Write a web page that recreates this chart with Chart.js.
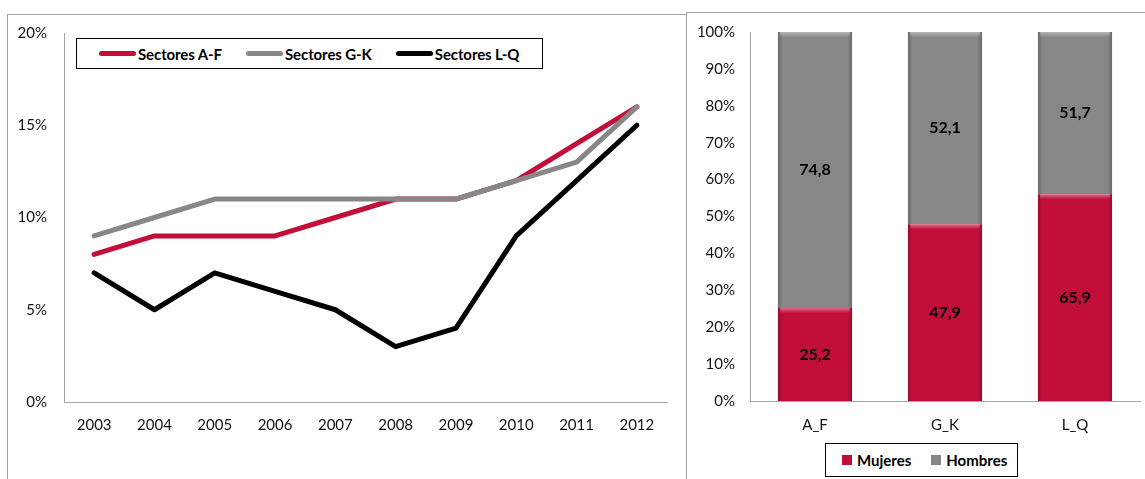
<!DOCTYPE html>
<html>
<head>
<meta charset="utf-8">
<script src="https://cdn.jsdelivr.net/npm/chart.js@4"></script>
<style>
  body { margin: 0; background: #fff; width: 1145px; height: 479px; overflow: hidden; position: relative; font-family: Lato, sans-serif; }
  #left { position: absolute; left: 7px; top: 14px; width: 678px; height: 470px; border: 1px solid #a6a6a6; border-bottom: none; }
  #right { position: absolute; left: 686px; top: 12px; width: 470px; height: 470px; border-top: 1px solid #a6a6a6; border-left: 1px solid #a6a6a6; }
  #left canvas, #right canvas { position: absolute; left: 0; top: 0; }
  .legend { position: absolute; box-sizing: border-box; border: 1px solid #000; background: #fff; display: flex; align-items: center; font-weight: bold; font-size: 15px; color: #000; white-space: nowrap; }
  #lineLegend { left: 76px; top: 38px; width: 467px; height: 31px; padding-left: 22px; }
  #lineLegend .item { display: flex; align-items: center; margin-right: 24px; letter-spacing: -0.1px; }
  #lineLegend .swatch { width: 37px; height: 5px; border-radius: 3px; margin-right: 2px; }
  #barLegend { left: 825px; top: 443px; width: 193px; height: 34px; padding-left: 16px; }
  #barLegend .item { display: flex; align-items: center; margin-right: 20px; }
  #barLegend .swatch { width: 10px; height: 10px; margin-right: 5px; }
</style>
</head>
<body>
<div id="left"><canvas id="lineChart" width="678" height="465"></canvas></div>
<div id="right"><canvas id="barChart" width="458" height="466"></canvas></div>
<div id="lineLegend" class="legend"></div>
<div id="barLegend" class="legend"></div>
<script>
// Left chart: share by sector group, 2003-2012 (%)
const years = ["2003", "2004", "2005", "2006", "2007", "2008", "2009", "2010", "2011", "2012"];
const sectoresAF = [8, 9, 9, 9, 10, 11, 11, 12, 14, 16];
const sectoresGK = [9, 10, 11, 11, 11, 11, 11, 12, 13, 16];
const sectoresLQ = [7, 5, 7, 6, 5, 3, 4, 9, 12, 15];
const lineTicks = [0, 5, 10, 15, 20];

// Right chart: women / men by sector group
const groups = ["A_F", "G_K", "L_Q"];
const mujeres = [25.2, 47.9, 65.9];
const hombres = [74.8, 52.1, 51.7];
const barTicks = [0, 10, 20, 30, 40, 50, 60, 70, 80, 90, 100];

const RED = "#c20f3a";
const GRAY = "#878787";
const tickFont = { family: "Lato", size: 15 };
const tickColor = "#111";
const axisColor = "#a6a6a6";

// Line chart
const lineChart = new Chart(document.getElementById("lineChart"), {
  type: "line",
  data: {
    labels: years,
    datasets: [
      { label: "Sectores A-F", data: sectoresAF, borderColor: RED, order: 3 },
      { label: "Sectores G-K", data: sectoresGK, borderColor: GRAY, order: 2 },
      { label: "Sectores L-Q", data: sectoresLQ, borderColor: "#000000", order: 1 }
    ]
  },
  options: {
    responsive: false,
    animation: false,
    layout: { padding: { left: 0, right: 19, top: 18, bottom: 0 } },
    elements: {
      line: { borderWidth: 5, tension: 0, borderJoinStyle: "round", borderCapStyle: "round" },
      point: { radius: 0, hoverRadius: 0 }
    },
    plugins: { legend: { display: false }, tooltip: { enabled: false } },
    scales: {
      x: {
        offset: true,
        grid: { display: false, drawTicks: false },
        border: { display: true, color: axisColor, width: 1 },
        ticks: { font: tickFont, color: tickColor, padding: 14, maxRotation: 0 },
        afterFit: s => { s.height = 78; }
      },
      y: {
        min: 0, max: 20,
        afterBuildTicks: s => { s.ticks = lineTicks.map(v => ({ value: v })); },
        grid: { display: false, drawTicks: false },
        border: { display: true, color: axisColor, width: 1 },
        ticks: { font: tickFont, color: tickColor, padding: 17, callback: v => v + "%" },
        afterFit: s => { s.width = 56; s.paddingTop = 0; s.paddingBottom = 0; }
      }
    }
  }
});

// Bars drawn as share of the group total (100% stacked), labels keep the raw values
const mujeresPct = mujeres.map((v, i) => v / (v + hombres[i]) * 100);
const hombresPct = hombres.map((v, i) => v / (mujeres[i] + v) * 100);

// Bevel look and value labels on the bars
const barDecor = {
  id: "barDecor",
  afterDatasetsDraw(chart) {
    const ctx = chart.ctx;
    chart.data.datasets.forEach((ds, di) => {
      const meta = chart.getDatasetMeta(di);
      meta.data.forEach((bar, i) => {
        const left = bar.x - bar.width / 2;
        const top = Math.min(bar.y, bar.base);
        const h = Math.abs(bar.base - bar.y);
        ctx.save();
        // darker sides
        let g = ctx.createLinearGradient(left, 0, left + bar.width, 0);
        g.addColorStop(0, "rgba(0,0,0,0.22)");
        g.addColorStop(0.06, "rgba(0,0,0,0)");
        g.addColorStop(0.94, "rgba(0,0,0,0)");
        g.addColorStop(1, "rgba(0,0,0,0.22)");
        ctx.fillStyle = g;
        ctx.fillRect(left, top, bar.width, h);
        // lighter top edge
        g = ctx.createLinearGradient(0, top, 0, top + 5);
        g.addColorStop(0, "rgba(255,255,255,0.4)");
        g.addColorStop(1, "rgba(255,255,255,0)");
        ctx.fillStyle = g;
        ctx.fillRect(left + 2, top, bar.width - 4, 5);
        // value
        ctx.fillStyle = "#000";
        ctx.font = "bold 16px Lato";
        ctx.textAlign = "center";
        ctx.textBaseline = "middle";
        const c = bar.getCenterPoint();
        ctx.fillText(ds.raw[i].toFixed(1).replace(".", ","), c.x, c.y);
        ctx.restore();
      });
    });
  }
};

const barChart = new Chart(document.getElementById("barChart"), {
  type: "bar",
  data: {
    labels: groups,
    datasets: [
      { label: "Mujeres", data: mujeresPct, raw: mujeres, backgroundColor: RED },
      { label: "Hombres", data: hombresPct, raw: hombres, backgroundColor: GRAY }
    ]
  },
  options: {
    responsive: false,
    animation: false,
    layout: { padding: { left: 0, right: 5, top: 19, bottom: 0 } },
    datasets: { bar: { categoryPercentage: 1, barPercentage: 0.57, borderWidth: 0 } },
    plugins: { legend: { display: false }, tooltip: { enabled: false } },
    scales: {
      x: {
        stacked: true,
        grid: { display: false, drawTicks: false },
        border: { display: true, color: axisColor, width: 1 },
        ticks: { font: tickFont, color: tickColor, padding: 15 },
        afterFit: s => { s.height = 78; }
      },
      y: {
        stacked: true,
        min: 0, max: 100,
        afterBuildTicks: s => { s.ticks = barTicks.map(v => ({ value: v })); },
        grid: { display: false, drawTicks: false },
        border: { display: true, color: axisColor, width: 1 },
        ticks: { font: tickFont, color: tickColor, padding: 15, callback: v => v + "%" },
        afterFit: s => { s.width = 63; s.paddingTop = 0; s.paddingBottom = 0; }
      }
    }
  },
  plugins: [barDecor]
});

// HTML legends built from the chart datasets
function buildLegend(chart, el, isLine) {
  chart.data.datasets.forEach(ds => {
    const item = document.createElement("div");
    item.className = "item";
    const sw = document.createElement("span");
    sw.className = "swatch";
    sw.style.background = isLine ? ds.borderColor : ds.backgroundColor;
    const txt = document.createElement("span");
    txt.textContent = ds.label;
    item.appendChild(sw);
    item.appendChild(txt);
    el.appendChild(item);
  });
}
buildLegend(lineChart, document.getElementById("lineLegend"), true);
buildLegend(barChart, document.getElementById("barLegend"), false);
</script>
</body>
</html>
